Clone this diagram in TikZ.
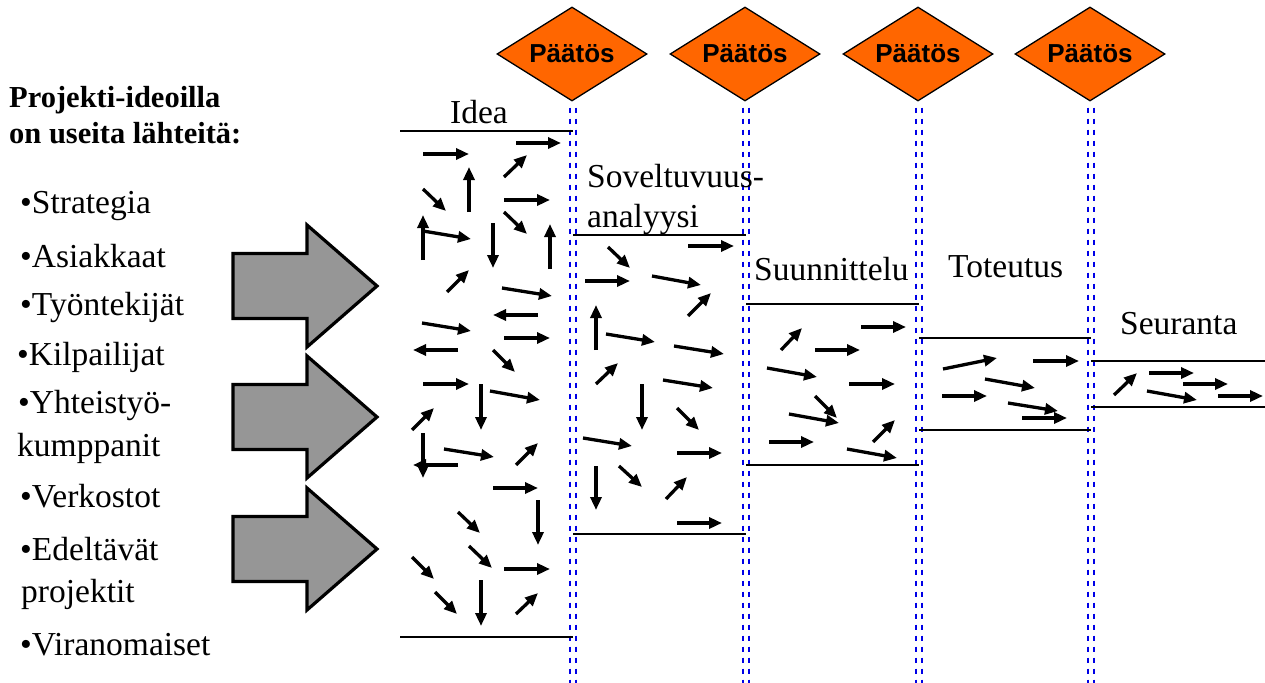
\documentclass[tikz,border=0pt]{standalone}
\usepackage{fontspec}
\setmainfont{Liberation Serif}
\newfontfamily\gatefont{Liberation Sans}
\usetikzlibrary{arrows.meta,shapes.geometric}
\definecolor{gateorange}{HTML}{FF6600}
\definecolor{sourcegray}{HTML}{969696}
\definecolor{gateblue}{HTML}{0000E6}

\begin{document}
\begin{tikzpicture}[x=1pt,y=-1pt,
  gate/.style={diamond, draw=black, line width=1.3pt, fill=gateorange,
    minimum width=150pt, minimum height=94pt, shape aspect=1.6, inner sep=0pt,
    font=\gatefont\bfseries\fontsize{26}{30}\selectfont},
  gateline/.style={draw=gateblue, line width=2.1pt, dash pattern=on 5pt off 6pt},
  phase/.style={line width=2.8pt},
  flow/.style={line width=3.3pt, -{Triangle[length=13pt,width=11pt]}},
  bigarrow/.style={draw=black, line width=3.2pt, fill=sourcegray, line join=miter},
  label/.style={anchor=base west, inner sep=0pt, font=\fontsize{33.5}{40}\selectfont},
  head/.style={anchor=base west, inner sep=0pt, font=\bfseries\fontsize{30.5}{36}\selectfont},
  srcarrow/.pic={\draw[bigarrow] (0,-32.5) -- (74,-32.5) -- (74,-61) -- (144,0)
    -- (74,61) -- (74,32.5) -- (0,32.5) -- cycle;}
]
\useasboundingbox (0,0) rectangle (1265,682);

% decision gates and their double dashed guide lines
\foreach \i/\x in {1/572,2/745,3/918,4/1090}{
  \node[gate] (g\i) at (\x,54) {Päätös};
  \draw[gateline] ([xshift=-1.8pt,yshift=-6pt]g\i.south) -- ++(0,580);
  \draw[gateline] ([xshift=3.6pt,yshift=-6pt]g\i.south) -- ++(0,580);
}

% left column: sources of project ideas
\node[head] (h1) at (9,108) {Projekti-ideoilla};
\node[head] (h2) at (9,143) {on useita lähteitä:};
\node[label] (s1) at (20,213) {•Strategia};
\node[label] (s2) at (20,267) {•Asiakkaat};
\node[label] (s3) at (20,315) {•Työntekijät};
\node[label] (s4) at (17,365) {•Kilpailijat};
\node[label] (s5) at (18,413) {•Yhteistyö-};
\node[label] (s5b) at (17,456) {kumppanit};
\node[label] (s6) at (20,507) {•Verkostot};
\node[label] (s7) at (20,560) {•Edeltävät};
\node[label] (s7b) at (21,602) {projektit};
\node[label] (s8) at (20,655) {•Viranomaiset};

% block arrows feeding the funnel
\pic at (233,286) {srcarrow};
\pic at (233,417) {srcarrow};
\pic at (233,549) {srcarrow};

% phase names
\node[label] (p1) at (450,124) {Idea};
\node[label] (p2) at (587,187) {Soveltuvuus-};
\node[label] (p2b) at (587,227) {analyysi};
\node[label] (p3) at (754,280) {Suunnittelu};
\node[label] (p4) at (948,277) {Toteutus};
\node[label] (p5) at (1120,334) {Seuranta};

% phase boundaries narrowing towards the end
\draw[phase] (400,131) -- (573,131);
\draw[phase] (400,637) -- (573,637);
\draw[phase] (573,235) -- (746,235);
\draw[phase] (573,534) -- (746,534);
\draw[phase] (746,304) -- (919,304);
\draw[phase] (746,465) -- (919,465);
\draw[phase] (919,338) -- (1091,338);
\draw[phase] (919,430) -- (1091,430);
\draw[phase] (1091,361) -- (1265,361);
\draw[phase] (1091,407) -- (1265,407);

% scattered ideas
\foreach \a/\b/\c/\d in {
  423/154/469/154, 516/143/561/143, 504/177/527/155, 469/212/469/167,
  423/189/446/211, 504/200/550/200, 504/212/527/234, 423/260/423/215,
  423/231/471/239, 493/223/493/268, 550/269/550/224, 447/292/469/270,
  502/288/552/296, 538/315/493/315, 422/323/471/331, 504/338/550/338,
  458/350/413/350, 493/350/515/372, 423/384/469/384, 481/384/481/430,
  490/391/540/400, 412/430/434/408, 423/433/423/478, 444/449/494/457,
  458/465/413/465, 516/465/538/443, 493/488/538/488, 538/500/538/545,
  458/512/480/533, 469/546/492/568, 412/557/434/579, 504/569/550/569,
  481/580/481/626, 435/592/457/614, 516/614/538/593}
  \draw[flow] (\a,\b) -- (\c,\d);

% feasibility analysis
\foreach \a/\b/\c/\d in {
  688/246/734/246, 608/247/630/268, 585/281/630/281, 652/276/701/285,
  688/316/711/293, 596/350/596/305, 606/334/655/342, 674/346/724/354,
  596/384/618/363, 663/380/713/388, 642/384/642/430, 677/408/699/430,
  583/438/632/446, 677/453/722/453, 619/466/642/487, 596/466/596/510,
  666/499/687/477, 677/523/722/523}
  \draw[flow] (\a,\b) -- (\c,\d);

% planning
\foreach \a/\b/\c/\d in {
  781/350/802/328, 861/327/906/327, 815/350/860/350, 767/368/817/377,
  849/384/895/384, 815/396/837/418, 789/414/839/423, 873/442/895/420,
  769/442/814/442, 847/449/897/458}
  \draw[flow] (\a,\b) -- (\c,\d);

% implementation
\foreach \a/\b/\c/\d in {
  943/369/997/358, 1033/361/1079/361, 985/379/1035/388, 942/396/987/396,
  1008/403/1058/411, 1022/418/1067/418}
  \draw[flow] (\a,\b) -- (\c,\d);

% follow-up
\foreach \a/\b/\c/\d in {
  1114/395/1137/373, 1149/373/1194/373, 1183/384/1228/384,
  1147/391/1197/400, 1218/396/1263/396}
  \draw[flow] (\a,\b) -- (\c,\d);
\end{tikzpicture}
\end{document}
